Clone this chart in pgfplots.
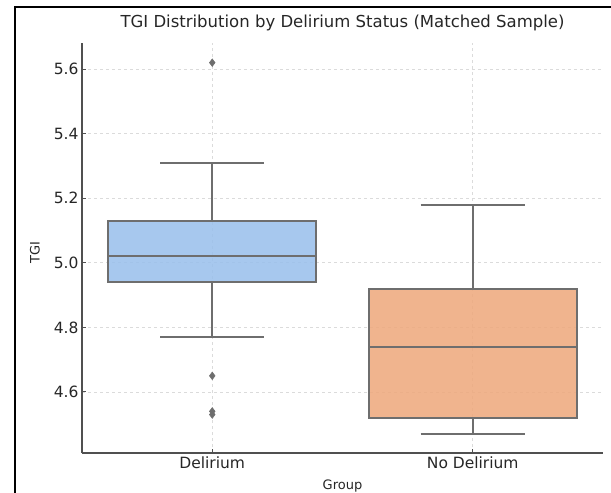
\documentclass[border=0pt]{standalone}
\usepackage{pgfplots}
\pgfplotsset{compat=1.18}
\usepgfplotslibrary{statistics}
\usepackage{fontspec}
\setmainfont{DejaVu Sans}
\definecolor{boxblue}{HTML}{9BC0EC}
\definecolor{boxorange}{HTML}{EEAA7E}
\definecolor{linegray}{HTML}{6E6E6E}
\definecolor{spinegray}{HTML}{505050}
\definecolor{textgray}{HTML}{262626}
\begin{document}
\begin{tikzpicture}
\useasboundingbox (0pt,0pt) rectangle (611pt,493pt);
\draw[black,line width=2pt] (15pt,0pt) -- (15pt,486pt) -- (611pt,486pt);
\begin{axis}[
  at={(82pt,40pt)}, anchor=south west,
  width=521pt, height=410pt, scale only axis,
  boxplot/draw direction=y,
  xmin=-0.5, xmax=1.5, ymin=4.411, ymax=5.681,
  xtick={0,1}, xticklabels={Delirium, No Delirium},
  ytick={4.6,4.8,5.0,5.2,5.4,5.6},
  yticklabel style={/pgf/number format/fixed, /pgf/number format/fixed zerofill, /pgf/number format/precision=1},
  /pgf/number format/assume math mode=true,
  tick label style={font=\fontsize{15.5}{18}\selectfont, text=textgray},
  axis x line*=bottom, axis y line*=left,
  axis line style={spinegray, line width=1.3pt},
  tick align=inside, major tick length=4pt,
  tick style={spinegray, line width=1pt},
  grid=major, major grid style={dashed, gray!28, line width=0.8pt},
  title={TGI Distribution by Delirium Status (Matched Sample)},
  title style={font=\fontsize{16.5}{20}\selectfont, text=textgray, at={(axis description cs:0.5,1)}, anchor=base, yshift=9pt},
  xlabel={Group}, ylabel={TGI},
  xlabel style={font=\fontsize{13}{16}\selectfont, text=textgray, at={(axis description cs:0.5,0)}, anchor=center, yshift=-33pt},
  ylabel style={font=\fontsize{13}{16}\selectfont, text=textgray, at={(axis description cs:-0.0902,0.49)}, anchor=center},
]
\addplot+[boxplot prepared={median=5.02, lower quartile=4.94, upper quartile=5.13, lower whisker=4.77, upper whisker=5.31, draw position=0, box extend=0.8, whisker extend=0.4},
  boxplot/every box/.style={fill=boxblue, fill opacity=0.88, draw opacity=1},
  draw=linegray, line width=2pt, mark=diamond*, mark size=3.8pt, mark options={fill=linegray, draw=linegray, line width=0.5pt}]
  table[row sep=\\, y index=0] {data\\ 5.62\\ 4.65\\ 4.54\\ 4.53\\};
\addplot+[boxplot prepared={median=4.74, lower quartile=4.52, upper quartile=4.92, lower whisker=4.47, upper whisker=5.18, draw position=1, box extend=0.8, whisker extend=0.4},
  boxplot/every box/.style={fill=boxorange, fill opacity=0.88, draw opacity=1},
  draw=linegray, line width=2pt, mark=diamond*, mark size=3.8pt, mark options={fill=linegray, draw=linegray}]
  coordinates {};
\end{axis}
\end{tikzpicture}
\end{document}
